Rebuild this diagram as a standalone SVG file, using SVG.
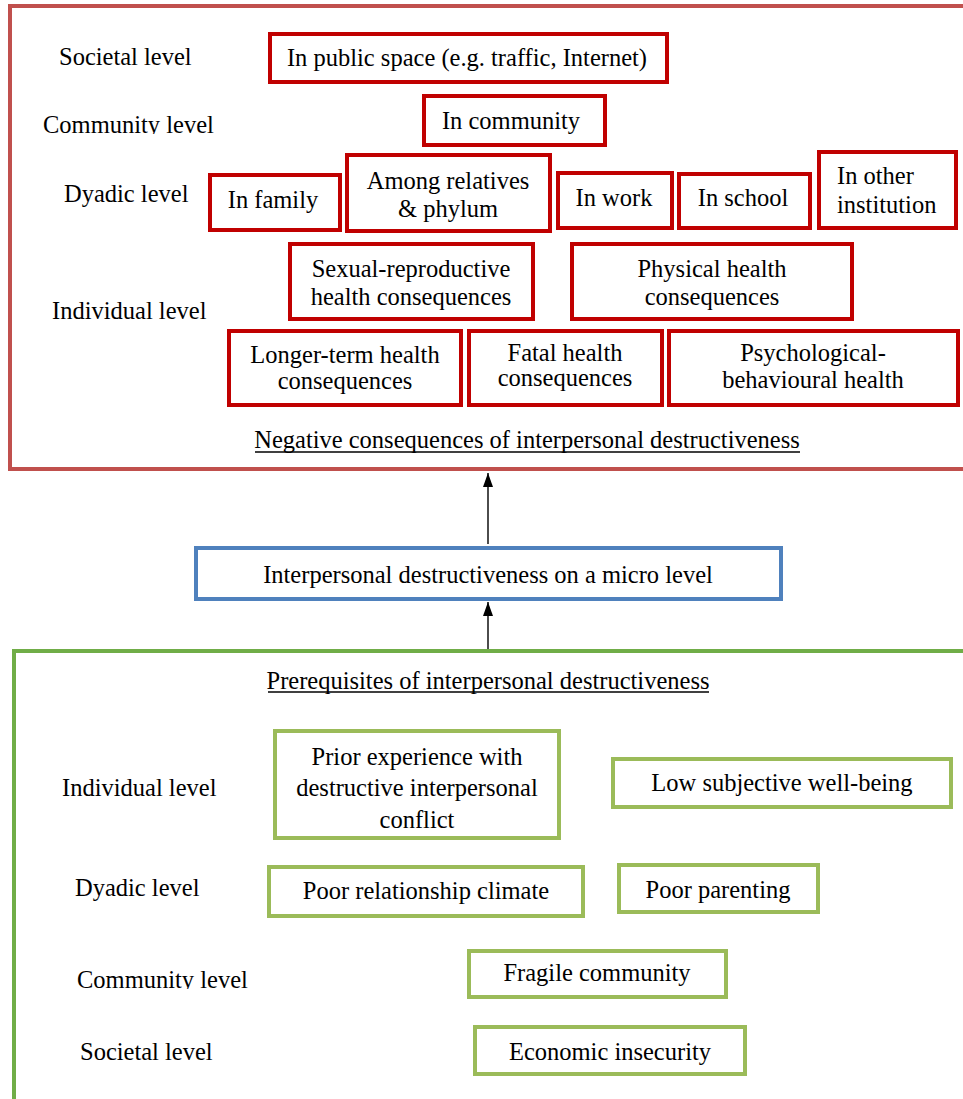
<svg xmlns="http://www.w3.org/2000/svg" width="963" height="1099" viewBox="0 0 963 1099">
<style>
text{font-family:"Liberation Serif","Times New Roman",serif;font-size:24.5px;fill:#000}
.c{text-anchor:middle}
.frame{fill:none;stroke-width:4}
.rb{fill:#fff;stroke:#c00000;stroke-width:4}
.gb{fill:#fff;stroke:#9bbb59;stroke-width:4}
.bb{fill:#fff;stroke:#4f81bd;stroke-width:4}
.conn{stroke:#000;stroke-width:1.4;fill:none;marker-end:url(#ah)}
.ul{stroke:#000;stroke-width:1.4}
</style>
<defs>
<marker id="ah" viewBox="0 0 14 10" refX="14" refY="5" markerWidth="14" markerHeight="10" markerUnits="userSpaceOnUse" orient="auto"><path d="M0,0 L14,5 L0,10 z" fill="#000"/></marker>
<clipPath id="clipTop"><rect x="0" y="100" width="300" height="34"/></clipPath>
<clipPath id="clipBot"><rect x="0" y="950" width="300" height="39"/></clipPath>
</defs>
<rect width="963" height="1099" fill="#fff"/>

<g id="consequences-frame">
<rect class="frame" x="10" y="6" width="965" height="463" stroke="#c0504d"/>
<text x="59" y="65">Societal level</text>
<text x="43" y="133" clip-path="url(#clipTop)">Community level</text>
<text x="64" y="202">Dyadic level</text>
<text x="52" y="319">Individual level</text>
<text class="c" x="527" y="448">Negative consequences of interpersonal destructiveness</text>
<line class="ul" x1="255" y1="452" x2="800" y2="452"/>
</g>

<g id="n-public"><rect class="rb" x="270" y="34" width="397" height="48"/><text class="c" x="467" y="66">In public space (e.g. traffic, Internet)</text></g>
<g id="n-community"><rect class="rb" x="424" y="96" width="181" height="49"/><text class="c" x="511" y="129">In community</text></g>
<g id="n-family"><rect class="rb" x="210" y="175" width="130" height="55"/><text class="c" x="273" y="208">In family</text></g>
<g id="n-relatives"><rect class="rb" x="347" y="155" width="203" height="76"/><text class="c" x="448" y="189">Among relatives</text><text class="c" x="448" y="217">&amp; phylum</text></g>
<g id="n-work"><rect class="rb" x="558" y="173" width="114" height="55"/><text class="c" x="614" y="206">In work</text></g>
<g id="n-school"><rect class="rb" x="679" y="174" width="131" height="54"/><text class="c" x="743" y="206">In school</text></g>
<g id="n-other"><rect class="rb" x="819" y="152" width="137" height="76"/><text x="837" y="184">In other</text><text x="837" y="213">institution</text></g>
<g id="n-sexual"><rect class="rb" x="290" y="244" width="243" height="75"/><text class="c" x="411" y="277">Sexual-reproductive</text><text class="c" x="411" y="305">health consequences</text></g>
<g id="n-physical"><rect class="rb" x="572" y="244" width="280" height="75"/><text class="c" x="712" y="277">Physical health</text><text class="c" x="712" y="305">consequences</text></g>
<g id="n-longer"><rect class="rb" x="229" y="331" width="232" height="74"/><text class="c" x="345" y="363">Longer-term health</text><text class="c" x="345" y="389">consequences</text></g>
<g id="n-fatal"><rect class="rb" x="469" y="331" width="193" height="74"/><text class="c" x="565" y="361">Fatal health</text><text class="c" x="565" y="386">consequences</text></g>
<g id="n-psych"><rect class="rb" x="669" y="331" width="289" height="74"/><text class="c" x="813" y="361">Psychological-</text><text class="c" x="813" y="388">behavioural health</text></g>

<g id="n-micro"><rect class="bb" x="196" y="548" width="585" height="51"/><text class="c" x="488" y="583">Interpersonal destructiveness on a micro level</text></g>

<g id="prerequisites-frame">
<rect class="frame" x="14" y="651" width="965" height="470" stroke="#70ad47"/>
<text class="c" x="488" y="689">Prerequisites of interpersonal destructiveness</text>
<line class="ul" x1="268" y1="692" x2="709" y2="692"/>
<text x="62" y="796">Individual level</text>
<text x="75" y="896">Dyadic level</text>
<text x="77" y="988" clip-path="url(#clipBot)">Community level</text>
<text x="80" y="1060">Societal level</text>
</g>

<g id="n-prior"><rect class="gb" x="275" y="731" width="284" height="107"/><text class="c" x="417" y="765">Prior experience with</text><text class="c" x="417" y="796">destructive interpersonal</text><text class="c" x="417" y="828">conflict</text></g>
<g id="n-wellbeing"><rect class="gb" x="613" y="759" width="338" height="48"/><text class="c" x="782" y="791">Low subjective well-being</text></g>
<g id="n-climate"><rect class="gb" x="269" y="867" width="314" height="49"/><text class="c" x="426" y="899">Poor relationship climate</text></g>
<g id="n-parenting"><rect class="gb" x="619" y="865" width="199" height="47"/><text class="c" x="718" y="898">Poor parenting</text></g>
<g id="n-fragile"><rect class="gb" x="469" y="951" width="257" height="46"/><text class="c" x="597" y="981">Fragile community</text></g>
<g id="n-economic"><rect class="gb" x="475" y="1027" width="270" height="47"/><text class="c" x="610" y="1060">Economic insecurity</text></g>

<g id="connectors">
<line class="conn" x1="488" y1="544" x2="488" y2="473"/>
<line class="conn" x1="488" y1="649" x2="488" y2="602"/>
</g>
</svg>
